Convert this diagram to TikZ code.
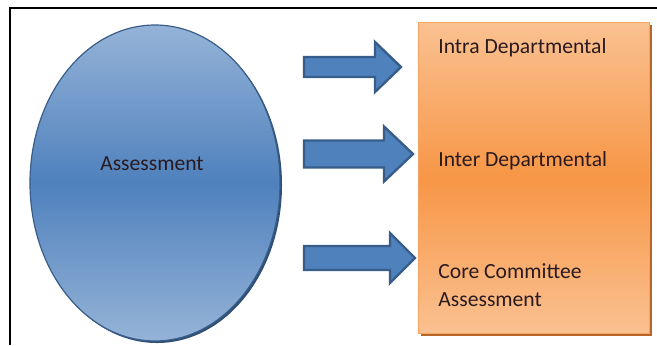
\documentclass[tikz,border=0pt]{standalone}
\usepackage{fontspec}
\setmainfont{Carlito}
\usepackage{tikz}
\usetikzlibrary{shapes.geometric}
\definecolor{bluelight}{HTML}{95B3D7}
\definecolor{bluemid}{HTML}{4F81BD}
\definecolor{blueedge}{HTML}{385D8A}
\definecolor{orangelight}{HTML}{FAC191}
\definecolor{orangemid}{HTML}{F79646}
\definecolor{orangeedge}{HTML}{F7A463}
\definecolor{orangeshadow}{HTML}{B8652A}
\definecolor{textdark}{HTML}{2A1A1E}
\tikzset{
  txt/.style={inner sep=0pt, text=textdark},
  blockarrow/.style={fill=bluemid, draw=blueedge, line width=1.2pt, line join=miter}
}

\begin{document}
\begin{tikzpicture}[x=0.5pt, y=-0.5pt, font=\fontsize{10.8}{14}\selectfont]
    \useasboundingbox (0,0) rectangle (657,345);
    \draw[line width=1.2pt] (10,345) -- (10,8) -- (657,8);
%
    \fill[blueedge!85!black] (157,185) ellipse (125 and 158);
    \node[ellipse, draw=blueedge, line width=0.6pt, inner sep=0pt,
          top color=bluelight, bottom color=bluelight, middle color=bluemid,
          minimum width=125pt, minimum height=158pt] (assess) at (155,183) {};
    \node[txt, anchor=base] (assesslabel) at (152,170) {Assessment};
%
    \foreach \y/\tip/\s/\h/\b in {67/401/10/25/375, 154/413/13.5/27.5/384, 258/415/12/25/390}
      \draw[blockarrow] (304,\y-\s) -- (\b,\y-\s) -- (\b,\y-\h) -- (\tip,\y)
        -- (\b,\y+\h) -- (\b,\y+\s) -- (304,\y+\s) -- cycle;
%
    \fill[orangeshadow] (421,25) rectangle (652,336);
    \node[draw=orangeedge, line width=0.6pt, inner sep=0pt, anchor=north west,
          top color=orangelight, bottom color=orangelight, middle color=orangemid,
          minimum width=115.5pt, minimum height=155.5pt] (levels) at (418,22) {};
    \node[txt, anchor=base west] (intra) at (438,53) {Intra Departmental};
    \node[txt, anchor=base west] (inter) at (438,166) {Inter Departmental};
    \node[txt, anchor=base west, align=left] (core) at (438,306) {Core Committee\\Assessment};
\end{tikzpicture}
\end{document}
